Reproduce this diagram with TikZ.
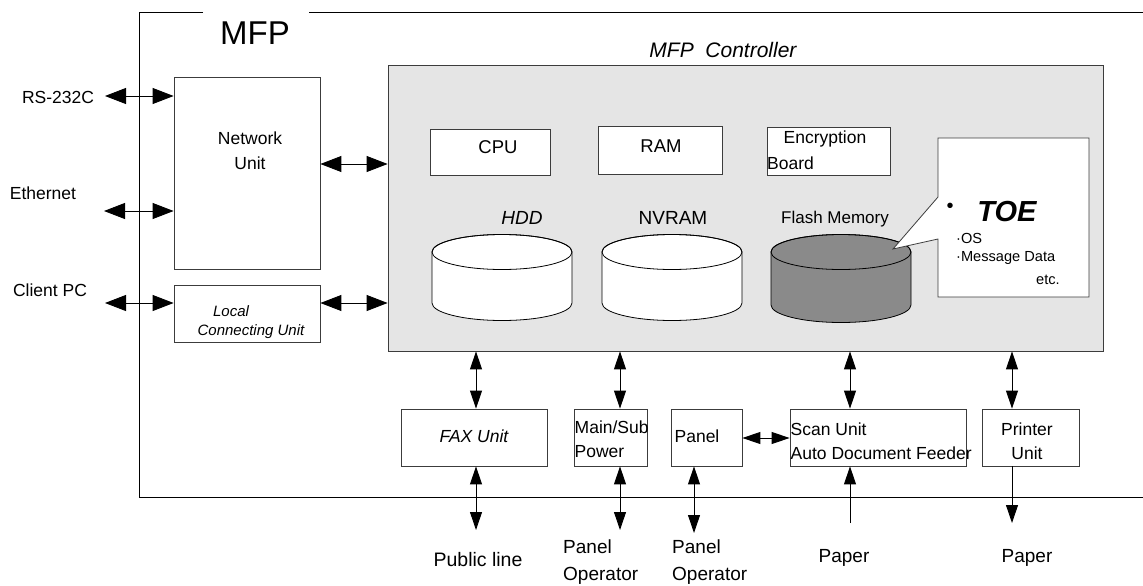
\documentclass[tikz,border=0pt]{standalone}
\usepackage{fontspec}
\setmainfont{Liberation Sans}
\usetikzlibrary{arrows.meta}
\definecolor{ctrlgray}{RGB}{229,229,229}
\definecolor{flashgray}{RGB}{138,138,138}
\definecolor{edge}{RGB}{60,60,60}
\newcommand\cylshape[4]{%
  \filldraw[fill=#4, draw=black, line width=0.8pt] (#1-70,#2) -- (#1-70,#3)
    arc[start angle=180,end angle=360,x radius=70pt,y radius=17.5pt]
    -- (#1+70,#2)
    arc[start angle=0,end angle=180,x radius=70pt,y radius=17.5pt] -- cycle;
  \draw[line width=0.8pt] (#1,#2) ellipse[x radius=70pt,y radius=17.5pt];}
\begin{document}
\begin{tikzpicture}[x=1pt,y=-1pt,
  box/.style={draw=edge, fill=white, inner sep=0pt, line width=0.8pt},
  lbl/.style={inner sep=0pt, font=\fontsize{17.5}{25}\selectfont},
  big/.style={inner sep=0pt, font=\fontsize{19.5}{27}\selectfont},
  small/.style={inner sep=0pt, font=\fontsize{14.6}{20}\selectfont},
  bi/.style={{Triangle[length=21pt,width=16pt]}-{Triangle[length=21pt,width=16pt]}, line width=0.9pt},
  vbi/.style={{Triangle[length=18pt,width=12pt]}-{Triangle[length=18pt,width=12pt]}, line width=0.9pt},
  vone/.style={-{Triangle[length=18pt,width=12pt]}, line width=0.9pt}]
\useasboundingbox (0,0) rectangle (1143,586);
% outer MFP frame
\draw[line width=0.8pt] (203,12) -- (139,12) -- (139,497) -- (1143,497);
\draw[line width=0.8pt] (309,12) -- (1143,12);
\node[inner sep=0pt, font=\fontsize{33}{36}\selectfont] (mfp) at (255,33) {MFP};
% controller
\node[draw=edge, fill=ctrlgray, line width=0.8pt, inner sep=0pt, minimum width=715pt, minimum height=286pt] (ctrl) at (745.5,208) {};
\node[inner sep=0pt, font=\fontsize{21}{24}\selectfont\itshape] (ctrlt) at (723,50) {MFP\ \ Controller};
% left units
\node[box, minimum width=146pt, minimum height=192pt] (net) at (247,173) {};
\node[lbl, align=center] (nett) at (250,151) {Network\\Unit};
\node[box, minimum width=146pt, minimum height=57pt] (loc) at (247,313.5) {};
\node[inner sep=0pt, font=\fontsize{15}{18}\selectfont\itshape] (loct1) at (231,311) {Local};
\node[inner sep=0pt, font=\fontsize{15}{18}\selectfont\itshape] (loct2) at (251,332) {Connecting Unit};
% external labels left
\node[lbl] (rs) at (58,97) {RS-232C};
\node[lbl] (eth) at (43,193) {Ethernet};
\node[lbl] (cpc) at (50,290) {Client PC};
\coordinate (rsL) at (105,96);
\coordinate (ethL) at (104,211);
\coordinate (cpcL) at (105,303);
\draw[bi] (rsL) -- (rsL -| net.west);
\draw[bi] (ethL) -- (ethL -| net.west);
\draw[bi] (cpcL) -- (cpcL -| loc.west);
\draw[bi] (net.east |- 0,164) -- (ctrl.west |- 0,164);
\draw[bi] (loc.east |- 0,303) -- (ctrl.west |- 0,303);
% controller contents
\node[box, minimum width=120pt, minimum height=46pt] (cpu) at (490,152) {};
\node[inner sep=0pt, font=\fontsize{18.5}{22}\selectfont] (cput) at (498,147) {CPU};
\node[box, minimum width=124pt, minimum height=48pt] (ram) at (660,150) {};
\node[inner sep=0pt, font=\fontsize{18.5}{22}\selectfont] (ramt) at (661,146) {RAM};
\node[box, minimum width=123pt, minimum height=48pt] (enc) at (828.5,151) {};
\node[lbl] (enct1) at (825,139) {Encryption};
\node[lbl, anchor=west] (enct2) at (767,163) {Board};
\node[big, font=\fontsize{19}{22}\selectfont\itshape] (hddt) at (522,218) {HDD};
\node[big, font=\fontsize{19}{22}\selectfont] (nvt) at (673,218) {NVRAM};
\node[inner sep=0pt, font=\fontsize{17}{20}\selectfont] (flt) at (835,219) {Flash Memory};
\cylshape{502}{252}{303}{white}
\cylshape{672}{252}{303}{white}
\cylshape{841}{252}{305}{flashgray}
\coordinate (hdd) at (502,278);
\coordinate (nvram) at (672,278);
\coordinate (flash) at (841,278);
% TOE callout
\filldraw[fill=white, draw=edge, line width=0.8pt] (938,138) -- (1089,138) -- (1089,297) -- (938,297) -- (938,239) -- (893,249) -- (938,197) -- cycle;
\node[inner sep=0pt, font=\fontsize{20}{20}\selectfont] (toeb) at (950,208) {•};
\node[inner sep=0pt, font=\fontsize{29}{30}\selectfont\bfseries\itshape] (toe) at (1007,212) {TOE};
\node[small, anchor=west] (os) at (956,238) {·OS};
\node[small, anchor=west] (msg) at (956,258) {·Message Data};
\node[small] (etc) at (1048,280) {etc.};
% bottom units
\node[box, minimum width=146pt, minimum height=57pt] (fax) at (474,437.5) {};
\node[lbl, font=\fontsize{17.5}{20}\selectfont\itshape] (faxt) at (474,436) {FAX Unit};
\node[box, minimum width=73pt, minimum height=57pt] (pwr) at (610.5,437.5) {};
\node[lbl, anchor=west] (pwrt1) at (574.5,427) {Main/Sub};
\node[lbl, anchor=west] (pwrt2) at (574.5,452) {Power};
\node[box, minimum width=71pt, minimum height=57pt] (pan) at (706.5,437.5) {};
\node[lbl] (pant) at (697,436) {Panel};
\node[box, minimum width=176pt, minimum height=57pt] (scan) at (878,437.5) {};
\node[lbl, anchor=west] (scant1) at (790.5,429) {Scan Unit};
\node[lbl, anchor=west] (scant2) at (790.5,453) {Auto Document Feeder};
\node[box, minimum width=97pt, minimum height=57pt] (prn) at (1030.5,437.5) {};
\node[lbl] (prnt1) at (1027,429) {Printer};
\node[lbl] (prnt2) at (1027,453) {Unit};
% controller <-> bottom units
\draw[vbi] (ctrl.south -| 476,0) -- (fax.north -| 476,0);
\draw[vbi] (ctrl.south -| 620,0) -- (pwr.north -| 620,0);
\draw[vbi] (ctrl.south -| 850,0) -- (scan.north -| 850,0);
\draw[vbi] (ctrl.south -| 1012,0) -- (prn.north -| 1012,0);
\draw[vbi] (pan.east |- 0,438) -- (scan.west |- 0,438);
% outside connections
\coordinate (pubE) at (476,530);
\coordinate (op1E) at (620,530);
\coordinate (op2E) at (694,533);
\coordinate (pap1E) at (850,523);
\coordinate (pap2E) at (1012,523);
\draw[vbi] (fax.south -| pubE) -- (pubE);
\draw[vbi] (pwr.south -| op1E) -- (op1E);
\draw[vbi] (pan.south -| op2E) -- (op2E);
\draw[vone] (pap1E) -- (scan.south -| pap1E);
\draw[vone] (prn.south -| pap2E) -- (pap2E);
\node[big] (pub) at (478,560) {Public line};
\node[big, anchor=west, align=left, font=\fontsize{19}{27}\selectfont] (op1) at (563,562.5) {Panel\\Operator};
\node[big, anchor=west, align=left, font=\fontsize{19}{27}\selectfont] (op2) at (672,562.5) {Panel\\Operator};
\node[big, font=\fontsize{19}{22}\selectfont] (pap1) at (844,558) {Paper};
\node[big, font=\fontsize{19}{22}\selectfont] (pap2) at (1027,558) {Paper};
\end{tikzpicture}
\end{document}
